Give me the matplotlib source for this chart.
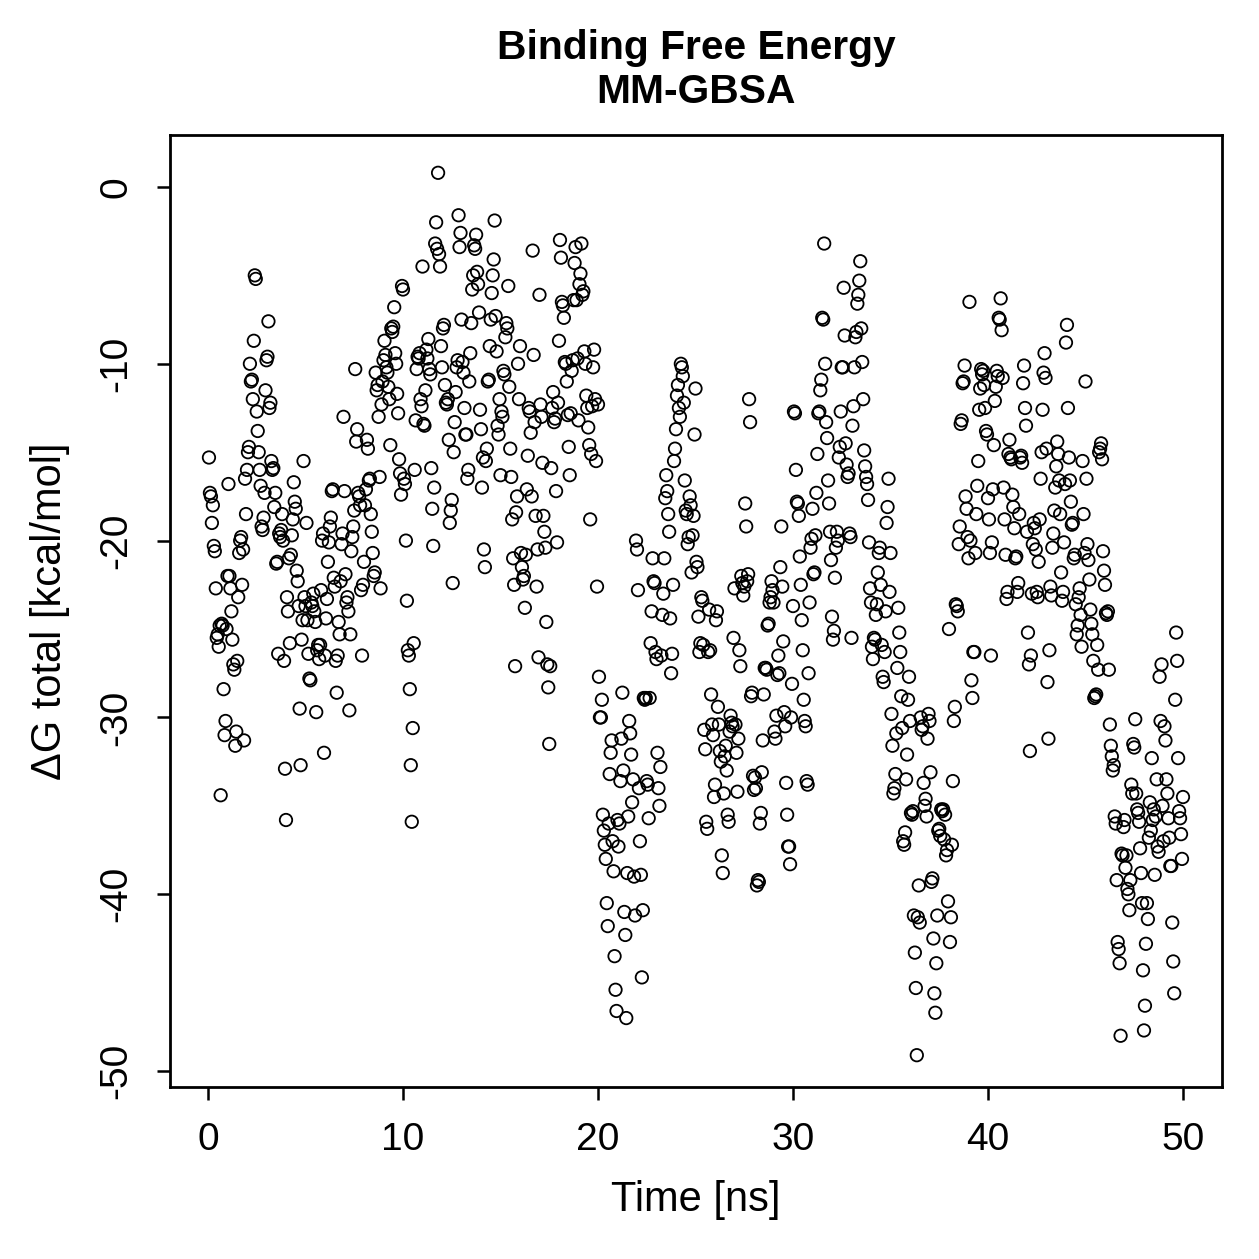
import numpy as np
import matplotlib
matplotlib.use("Agg")
import matplotlib.pyplot as plt

plt.rcParams['font.family'] = ['Liberation Sans', 'DejaVu Sans']

# dG total per 1 ns block (20 frames per ns, 0.05 ns step)
dg_blocks = [
    [-15.3, -17.3, -17.5, -19.0, -18.0, -20.3, -20.6, -22.7, -25.5, -25.3, -26.0, -24.8, -34.4, -24.7, -24.8, -28.4, -31.0, -30.2, -25.0, -22.0],
    [-16.8, -22.0, -22.7, -24.0, -25.6, -27.0, -27.3, -31.6, -30.8, -26.8, -23.2, -20.7, -20.0, -19.8, -22.5, -20.5, -31.3, -16.5, -18.5, -16.0],
    [-15.0, -14.7, -10.0, -11.0, -10.9, -12.0, -8.7, -5.0, -5.2, -12.7, -13.8, -15.0, -16.0, -16.9, -19.2, -19.4, -18.7, -17.3, -11.5, -9.8],
    [-9.6, -7.6, -12.5, -12.2, -15.5, -16.0, -15.9, -18.1, -17.3, -21.3, -21.2, -26.4, -19.6, -19.8, -19.4, -18.5, -20.0, -26.8, -32.9, -35.8],
    [-23.2, -24.0, -21.0, -25.8, -20.8, -19.7, -18.8, -16.7, -17.8, -18.2, -21.7, -22.3, -23.7, -29.5, -32.7, -25.6, -24.5, -15.5, -23.2, -23.7],
    [-19.0, -24.5, -26.4, -27.8, -27.9, -23.5, -23.7, -23.0, -24.0, -24.6, -29.7, -26.2, -25.9, -26.7, -25.9, -22.8, -20.0, -19.6, -32.0, -26.5],
    [-24.4, -23.3, -21.2, -20.1, -19.2, -18.7, -17.2, -17.1, -22.1, -22.6, -26.8, -28.6, -26.5, -24.6, -25.3, -22.3, -20.2, -19.6, -13.0, -17.2],
    [-21.9, -23.5, -23.2, -24.0, -29.6, -25.3, -20.6, -19.8, -19.2, -18.3, -10.3, -14.4, -13.7, -17.3, -17.5, -18.0, -22.8, -26.5, -22.5, -21.2],
    [-18.0, -17.1, -14.3, -14.8, -16.6, -16.5, -18.5, -19.5, -20.7, -22.0, -21.8, -10.5, -11.5, -11.2, -13.0, -16.4, -22.7, -12.3, -11.0, -9.8],
    [-8.7, -9.5, -10.2, -10.5, -11.3, -12.0, -14.6, -8.0, -8.2, -7.9, -6.8, -9.4, -10.0, -11.7, -12.8, -15.4, -16.2, -17.4, -5.6, -5.8],
    [-16.5, -16.8, -20.0, -23.4, -26.2, -26.5, -28.4, -32.7, -35.9, -30.6, -25.8, -16.0, -13.2, -10.3, -9.6, -9.7, -9.4, -12.0, -12.4, -4.5],
    [-13.4, -13.5, -11.5, -9.2, -9.7, -8.6, -10.3, -10.6, -15.9, -18.2, -20.3, -17.0, -3.2, -2.0, -3.5, 0.8, -3.8, -4.5, -9.0, -10.2],
    [-8.0, -7.8, -11.2, -12.2, -12.3, -12.0, -14.3, -19.0, -18.3, -17.7, -22.4, -15.0, -13.3, -11.6, -10.2, -9.8, -1.6, -3.4, -2.6, -7.5],
    [-9.9, -10.5, -12.5, -14.0, -14.0, -16.5, -16.0, -11.0, -9.4, -7.7, -5.8, -5.0, -3.3, -3.5, -2.7, -4.8, -5.5, -7.1, -12.6, -13.7],
    [-17.0, -15.3, -20.5, -21.5, -15.5, -14.8, -11.0, -10.9, -9.0, -7.5, -6.0, -5.0, -4.1, -1.9, -7.3, -9.3, -13.5, -14.0, -12.0, -16.3],
    [-12.7, -13.0, -10.4, -10.6, -8.5, -7.7, -8.0, -5.6, -11.3, -14.8, -16.4, -18.8, -21.0, -22.5, -27.1, -18.4, -17.5, -10.0, -12.0, -9.0],
    [-20.7, -21.5, -22.2, -22.0, -23.8, -20.8, -17.1, -15.2, -12.5, -12.7, -13.9, -17.5, -3.6, -9.5, -13.3, -18.6, -22.6, -20.5, -26.6, -6.1],
    [-12.3, -13.0, -15.6, -18.6, -19.5, -20.4, -24.6, -27.0, -28.3, -31.5, -27.1, -15.9, -12.5, -11.6, -13.3, -13.1, -17.2, -20.1, -12.2, -8.7],
    [-3.0, -4.0, -6.5, -6.7, -7.4, -9.9, -10.0, -11.0, -12.9, -14.7, -16.3, -12.8, -10.4, -9.8, -6.4, -4.3, -3.4, -6.4, -9.7, -13.2],
    [-5.5, -4.9, -3.2, -6.1, -5.9, -9.3, -10.0, -11.8, -12.5, -13.6, -14.6, -18.8, -15.1, -12.4, -10.2, -9.2, -12.0, -15.5, -22.6, -12.3],
    [-27.7, -30.0, -30.0, -29.0, -35.5, -36.4, -37.2, -38.0, -40.5, -41.8, -36.0, -33.2, -32.0, -31.3, -37.0, -38.7, -43.5, -45.4, -46.6, -35.8],
    [-37.3, -36.0, -33.6, -31.2, -28.6, -33.0, -41.0, -42.3, -47.0, -38.8, -35.6, -30.2, -30.9, -32.1, -34.8, -33.5, -39.0, -41.2, -20.0, -20.5],
    [-22.8, -34.0, -37.0, -38.9, -44.7, -40.9, -28.9, -29.0, -28.9, -33.6, -33.8, -35.7, -28.9, -25.8, -24.0, -21.0, -22.3, -22.4, -26.3, -26.7],
    [-32.0, -34.0, -35.0, -32.8, -26.5, -24.2, -23.0, -21.0, -17.6, -16.3, -17.2, -18.5, -19.5, -24.4, -27.5, -26.4, -22.5, -15.5, -14.8, -13.7],
    [-11.8, -11.2, -12.5, -13.0, -10.0, -10.2, -10.7, -12.2, -16.6, -18.3, -18.5, -20.2, -19.8, -17.5, -18.0, -21.8, -19.7, -18.6, -14.0, -11.4],
    [-21.2, -21.5, -24.3, -26.3, -25.8, -23.2, -23.4, -25.9, -30.7, -31.8, -35.9, -36.3, -26.3, -23.9, -26.2, -28.7, -30.4, -31.0, -34.5, -33.8],
    [-24.5, -24.0, -29.4, -30.4, -31.9, -32.5, -37.8, -38.8, -34.3, -32.2, -31.6, -33.0, -35.5, -35.9, -30.8, -29.9, -30.3, -30.5, -25.5, -22.7],
    [-30.4, -32.0, -34.2, -31.2, -26.2, -27.1, -22.0, -22.4, -23.1, -22.6, -17.9, -19.2, -22.3, -21.9, -12.0, -13.3, -28.8, -28.6, -33.3, -34.1],
    [-33.4, -34.0, -39.5, -39.2, -39.3, -36.0, -35.4, -33.1, -31.3, -28.7, -27.2, -27.2, -27.3, -24.8, -24.7, -23.5, -23.2, -22.3, -22.8, -23.5],
    [-30.8, -31.2, -29.9, -27.6, -26.5, -27.5, -21.5, -19.2, -22.6, -25.7, -29.7, -30.5, -33.7, -35.5, -37.3, -37.3, -38.3, -30.0, -28.1, -23.7],
    [-12.7, -12.8, -16.0, -17.8, -17.9, -18.6, -20.9, -22.5, -24.5, -26.2, -29.0, -30.2, -30.5, -33.6, -33.8, -27.5, -23.5, -20.4, -19.9, -18.2],
    [-21.9, -21.8, -19.7, -17.3, -15.1, -12.8, -12.7, -11.5, -10.9, -7.4, -7.5, -3.2, -10.0, -13.3, -14.2, -16.6, -17.9, -19.5, -21.1, -24.3],
    [-25.6, -25.1, -22.1, -20.4, -19.5, -20.0, -15.3, -14.7, -12.7, -10.2, -10.2, -5.7, -8.4, -14.5, -15.7, -16.4, -16.2, -19.6, -19.8, -25.5],
    [-13.5, -12.4, -10.2, -8.5, -8.2, -6.6, -6.1, -5.3, -4.2, -8.0, -9.9, -12.0, -14.9, -15.8, -16.4, -16.8, -17.7, -20.1, -22.7, -23.5],
    [-26.0, -26.7, -25.5, -25.6, -24.2, -23.6, -21.8, -20.7, -20.4, -22.5, -25.9, -27.7, -28.0, -26.3, -24.0, -19.0, -18.1, -16.5, -22.9, -20.7],
    [-29.8, -31.6, -34.3, -34.0, -33.2, -30.9, -27.2, -23.8, -25.2, -26.3, -28.8, -30.6, -37.0, -37.2, -36.5, -33.5, -32.1, -29.0, -27.7, -30.2],
    [-35.4, -35.5, -35.3, -41.2, -43.3, -45.3, -49.1, -41.3, -39.5, -41.6, -30.0, -30.7, -30.5, -33.7, -35.0, -34.6, -35.6, -31.2, -29.8, -30.2],
    [-33.1, -39.3, -39.1, -42.5, -45.6, -46.7, -43.9, -41.2, -36.4, -36.3, -36.7, -35.2, -35.3, -35.2, -36.9, -35.5, -37.8, -37.5, -40.4, -25.0],
    [-42.7, -41.3, -37.2, -33.6, -30.2, -29.4, -23.6, -23.7, -24.0, -20.2, -19.2, -13.4, -13.2, -11.1, -11.0, -10.1, -17.5, -18.2, -19.8, -21.0],
    [-6.5, -20.0, -27.9, -28.9, -26.3, -26.3, -20.7, -18.5, -16.9, -15.5, -12.6, -11.4, -10.3, -10.6, -10.4, -11.2, -12.5, -13.8, -14.0, -17.6],
    [-18.8, -20.7, -26.5, -20.1, -17.1, -14.6, -12.1, -11.3, -10.4, -10.7, -7.4, -7.5, -6.3, -8.1, -10.8, -17.0, -18.8, -20.8, -23.3, -22.9],
    [-15.1, -14.3, -15.3, -15.4, -17.4, -18.1, -19.3, -21.0, -20.9, -22.9, -22.4, -18.5, -15.3, -15.2, -15.6, -11.1, -10.1, -12.5, -13.5, -19.5],
    [-25.2, -27.0, -31.9, -26.5, -23.0, -20.2, -19.0, -19.3, -20.5, -22.9, -23.2, -21.2, -18.8, -16.5, -15.0, -12.6, -10.5, -9.4, -10.8, -14.8],
    [-28.0, -31.2, -26.2, -22.6, -23.1, -20.4, -19.6, -18.3, -17.0, -15.8, -14.4, -15.1, -16.6, -18.5, -21.8, -23.4, -22.9, -20.1, -16.8, -8.8],
    [-7.8, -12.5, -15.3, -16.6, -17.8, -19.1, -19.0, -21.0, -20.8, -23.6, -25.3, -24.8, -23.2, -22.7, -24.2, -26.0, -15.5, -18.5, -20.7, -11.0],
    [-16.5, -20.2, -21.1, -22.2, -23.9, -24.7, -25.3, -26.8, -28.9, -28.8, -28.7, -25.9, -27.3, -15.0, -14.8, -14.5, -15.4, -20.6, -21.7, -22.5],
    [-24.1, -24.2, -24.0, -27.3, -30.4, -31.6, -32.2, -33.0, -32.7, -35.6, -36.0, -39.2, -42.7, -43.1, -43.9, -48.0, -37.7, -37.8, -36.2, -35.8],
    [-38.5, -37.8, -39.7, -40.0, -40.9, -39.2, -33.8, -34.3, -31.5, -31.7, -30.1, -34.3, -35.2, -35.4, -35.9, -37.4, -38.8, -40.5, -44.3, -47.7],
    [-46.3, -42.8, -40.5, -41.4, -36.8, -34.8, -36.4, -32.3, -35.8, -35.2, -38.9, -35.6, -33.5, -37.3, -37.6, -27.7, -30.2, -27.0, -35.0, -37.0],
    [-30.5, -31.3, -33.5, -34.3, -35.7, -36.8, -38.4, -38.4, -41.6, -43.8, -45.6, -29.0, -25.2, -26.8, -32.3, -35.3, -35.7, -36.6, -38.0, -34.5],
]

dg = np.concatenate(dg_blocks)
dt = 0.05  # ns per frame
time_ns = np.arange(1, len(dg) + 1) * dt

x_ticks = [0, 10, 20, 30, 40, 50]
y_ticks = [0, -10, -20, -30, -40, -50]

fig = plt.figure(figsize=(6.295, 6.295), dpi=200)
ax = fig.add_axes([0.135, 0.1366, 0.8356, 0.7562])

ax.scatter(time_ns, dg, s=20, facecolors='none', edgecolors='black', linewidths=0.65)

ax.set_xlim(-1.95, 52.0)
ax.set_ylim(-50.9, 2.94)
ax.set_xticks(x_ticks)
ax.set_yticks(y_ticks)
ax.set_yticklabels([str(v) for v in y_ticks], rotation=90, va='center')
ax.tick_params(direction='out', length=4.7, width=0.9, labelsize=14, pad=8)

for s in ax.spines.values():
    s.set_linewidth(1.0)

ax.set_xlabel("Time [ns]", fontsize=15)
ax.set_ylabel("ΔG total [kcal/mol]", fontsize=15)
ax.xaxis.set_label_coords(0.5, -0.1187)
ax.xaxis.label.set_va('center')
ax.yaxis.set_label_coords(-0.114, 0.5)
ax.yaxis.label.set_va('center')

fig.text(0.5528, 1 - 70 / 1259, "Binding Free Energy\nMM-GBSA", fontsize=14.7,
         fontweight='bold', ha='center', va='center', linespacing=1.22)

fig.savefig("out.png", dpi=200)
